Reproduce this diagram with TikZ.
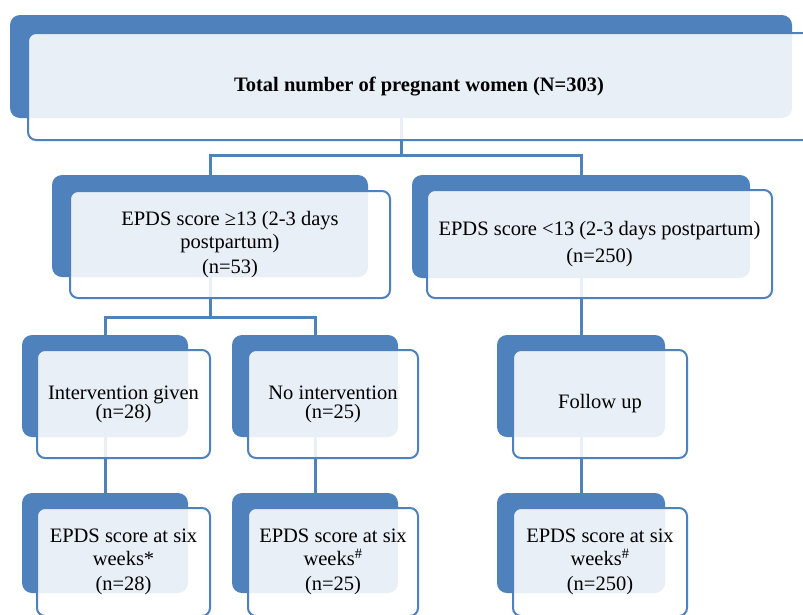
\documentclass[tikz,border=0pt]{standalone}
\usepackage{fontspec}
\setmainfont{Liberation Serif}
\usetikzlibrary{positioning, backgrounds}
\definecolor{boxblue}{RGB}{79,129,189}

\begin{document}
\begin{tikzpicture}[x=1pt, y=-1pt,
        every node/.style = {font=\fontsize{20.5}{23}\selectfont},
        backbox/.style = {rectangle, rounded corners=10pt, fill=boxblue, inner sep=0pt},
        frontbox/.style = {rectangle, rounded corners=8pt, draw=boxblue, line width=2pt,
            fill=white, fill opacity=0.88, text opacity=1, inner sep=0pt, align=center},
        link/.style = {draw=boxblue, line width=3pt}]
        \useasboundingbox (0,0) rectangle (803,614);
        \clip (0,0) rectangle (803,614);

        \node[backbox, minimum width=782, minimum height=103] (totalB) at (401, 66.5) {};
        \node[frontbox, minimum width=782, minimum height=107, font=\bfseries\fontsize{20.5}{23}\selectfont] (total) at (419, 86.5) {Total number of pregnant women (N=303)};

        \node[backbox, minimum width=316, minimum height=102] (highB) at (210, 226) {};
        \node[frontbox, minimum width=320, minimum height=107] (high) at (230, 244.5) {EPDS score ≥13 (2-3 days\\postpartum)\\[2pt](n=53)};

        \node[backbox, minimum width=338, minimum height=103] (lowB) at (581, 226.5) {};
        \node[frontbox, minimum width=345, minimum height=108] (low) at (599.5, 244) {EPDS score <13 (2-3 days postpartum)\\[4pt](n=250)};

        \node[backbox, minimum width=166, minimum height=102] (giveB) at (105, 386) {};
        \node[frontbox, minimum width=173, minimum height=108] (give) at (123.5, 404) {\raisebox{4pt}{\begin{tabular}{@{}c@{}}Intervention given\\[-4pt](n=28)\end{tabular}}};

        \node[backbox, minimum width=166, minimum height=102] (noneB) at (315, 386) {};
        \node[frontbox, minimum width=170, minimum height=108] (none) at (333, 404) {\raisebox{4pt}{\begin{tabular}{@{}c@{}}No intervention\\[-4pt](n=25)\end{tabular}}};

        \node[backbox, minimum width=168, minimum height=102] (followB) at (581, 386) {};
        \node[frontbox, minimum width=174, minimum height=108] (follow) at (600, 404) {Follow up};

        \node[backbox, minimum width=166, minimum height=100] (giveSixB) at (105, 543) {};
        \node[frontbox, minimum width=173, minimum height=108] (giveSix) at (123.5, 562) {EPDS score at six\\weeks*\\[2pt](n=28)};

        \node[backbox, minimum width=166, minimum height=100] (noneSixB) at (315, 543) {};
        \node[frontbox, minimum width=170, minimum height=108] (noneSix) at (333, 562) {EPDS score at six\\weeks\textsuperscript{\#}\\[2pt](n=25)};

        \node[backbox, minimum width=168, minimum height=100] (followSixB) at (581, 543) {};
        \node[frontbox, minimum width=174, minimum height=108] (followSix) at (600, 562) {EPDS score at six\\weeks\textsuperscript{\#}\\[2pt](n=250)};

        \begin{scope}[on background layer]
            \draw[link] (totalB.south) -- (totalB.south |- 0,155) -| (highB.north);
            \draw[link] (totalB.south |- 0,155) -| (lowB.north);
            \draw[link] (highB.south) -- (highB.south |- 0,317) -| (giveB.north);
            \draw[link] (highB.south |- 0,317) -| (noneB.north);
            \draw[link] (lowB.south) -- (followB.north);
            \draw[link] (giveB.south) -- (giveSixB.north);
            \draw[link] (noneB.south) -- (noneSixB.north);
            \draw[link] (followB.south) -- (followSixB.north);
        \end{scope}
    \end{tikzpicture}
\end{document}
